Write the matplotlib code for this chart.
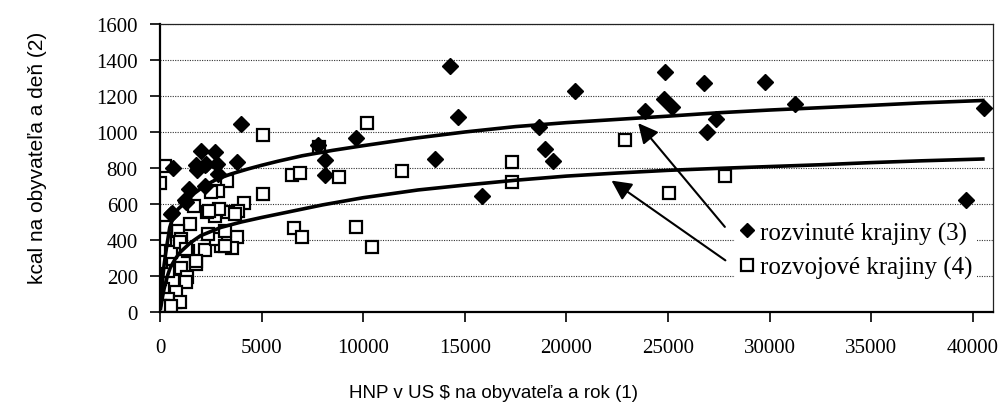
import numpy as np
import matplotlib
matplotlib.use('Agg')
import matplotlib.pyplot as plt

# developed countries (diamonds)
dev_x = [14250, 4000, 2000, 2700, 2220, 1830, 2810, 2860, 3800, 640, 1430, 2200,
         1250, 590, 560, 1300, 7800, 9640, 8130, 8130, 13525, 14660, 15830, 18660,
         18940, 19320, 20420, 24880, 26800, 24830, 25210, 23875, 26920, 27380,
         29760, 31245, 40570, 39670, 1780, 2270]
dev_y = [1365, 1044, 896, 887, 818, 791, 822, 767, 835, 800, 683, 702,
         624, 550, 544, 609, 928, 965, 844, 763, 850, 1085, 643, 1030,
         906, 837, 1226, 1335, 1272, 1183, 1141, 1118, 1002, 1072,
         1276, 1155, 1131, 622, 815, 822]

# developing countries (squares)
dvl_x = [230, 15, 5050, 10180, 7850, 11910, 6480, 6900, 8790, 5050, 6610, 7010,
         9660, 10430, 4130, 3770, 3520, 3000, 3850, 3360, 2700, 2335, 2900, 3310,
         2860, 2530, 1680, 1465, 200, 890, 2200, 1760, 1050, 1350, 480, 725,
         2780, 1380, 1050, 17340, 17340, 22900, 25040, 27820, 310, 2370, 3190,
         3190, 1790, 640, 1300, 150, 805, 395, 0, 970, 150, 560, 0, 395, 65,
         560, 970, 230, 1300, 3690, 2400]
dvl_y = [813, 717, 983, 1050, 918, 785, 761, 772, 752, 656, 465, 418,
         474, 359, 605, 415, 354, 365, 559, 554, 535, 557, 572, 730,
         674, 668, 591, 489, 465, 448, 346, 267, 243, 193, 146, 57,
         406, 341, 406, 831, 724, 957, 661, 757, 470, 433, 452,
         369, 285, 174, 165, 128, 109, 72, 35, 54, 35, 35, 183, 230, 276,
         331, 387, 405, 350, 544, 560]

# trend lines
dev_trend_x = [30, 100, 200, 310, 480, 650, 890, 1280, 1700, 2200, 2800, 3500,
               4340, 5000, 5820, 7000, 8500, 10000, 12500, 15000, 17500, 20000,
               22500, 25000, 27500, 30000, 32500, 35000, 37500, 40500]
dev_trend_y = [40, 150, 260, 350, 470, 530, 572, 612, 660, 702, 738, 767,
               795, 815, 838, 868, 898, 924, 965, 1000, 1030, 1052,
               1070, 1088, 1107, 1122, 1135, 1148, 1162, 1175]
dvl_trend_x = [30, 100, 200, 350, 500, 750, 1000, 1500, 2000, 3000, 4000, 5000,
               6500, 8000, 10000, 12700, 15000, 17500, 20000, 22500, 25000,
               27500, 30000, 32500, 35000, 37500, 40500]
dvl_trend_y = [20, 70, 128, 195, 245, 295, 333, 385, 424, 470, 500, 525,
               560, 595, 635, 678, 705, 732, 755, 772, 787,
               798, 808, 818, 830, 840, 850]

serif = 'Liberation Serif'
sans = ['Liberation Sans', 'DejaVu Sans']

fig = plt.figure(figsize=(10.05, 4.06), dpi=100)
ax = fig.add_axes([160 / 1005, 1 - 313 / 406, 833 / 1005, 288 / 406])

ax.plot(dev_trend_x, dev_trend_y, color='black', lw=2.6, zorder=3)
ax.plot(dvl_trend_x, dvl_trend_y, color='black', lw=2.6, zorder=3)

ax.plot(dvl_x, dvl_y, 's', ms=9, mfc='white', mec='black', mew=1.6,
        label='rozvojové krajiny (4)', zorder=2)
ax.plot(dev_x, dev_y, 'D', ms=8, mfc='black', mec='black',
        label='rozvinuté krajiny (3)', zorder=4)

ax.annotate('', xy=(23450, 1061), xytext=(27890, 461),
            arrowprops=dict(arrowstyle='-|>', mutation_scale=30, lw=1.5, color='black'), zorder=5)
ax.annotate('', xy=(22110, 739), xytext=(27940, 278),
            arrowprops=dict(arrowstyle='-|>', mutation_scale=30, lw=1.5, color='black'), zorder=5)

ax.set_xlim(0, 41000)
ax.set_ylim(0, 1600)
ax.set_xticks(np.arange(0, 40001, 5000))
ax.set_yticks(np.arange(0, 1601, 200))
ax.grid(axis='y', linestyle=(0, (1, 1.2)), color='#333333', lw=0.8)
ax.set_axisbelow(True)

for lab in ax.get_xticklabels() + ax.get_yticklabels():
    lab.set_fontfamily(serif)
    lab.set_fontsize(15)
ax.tick_params(axis='x', direction='out', length=7, width=1.2, pad=12)
ax.tick_params(axis='y', direction='out', length=7, width=1.2, pad=9)

for s in ['left', 'bottom']:
    ax.spines[s].set_linewidth(1.6)
for s in ['top', 'right']:
    ax.spines[s].set_linewidth(0.9)
    ax.spines[s].set_color('#222222')

ax.set_xlabel('HNP v US $ na obyvateľa a rok (1)', family=sans, fontsize=13.5)
ax.set_ylabel('kcal na obyvateľa a deň (2)', family=sans, fontsize=15)
ax.xaxis.set_label_coords(0.40, -0.25)
ax.yaxis.set_label_coords(-0.136, 0.54)

handles, labels = ax.get_legend_handles_labels()
leg = ax.legend(handles[::-1], labels[::-1], loc='upper left', bbox_to_anchor=(0.675, 0.375),
                prop={'family': serif, 'size': 18}, markerscale=0.9, handlelength=0.6,
                handletextpad=0.2, borderpad=0.2, labelspacing=0.45,
                frameon=True, fancybox=False, framealpha=1)
leg.get_frame().set_edgecolor('none')
leg.set_zorder(6)

fig.savefig('out.png', dpi=100)
